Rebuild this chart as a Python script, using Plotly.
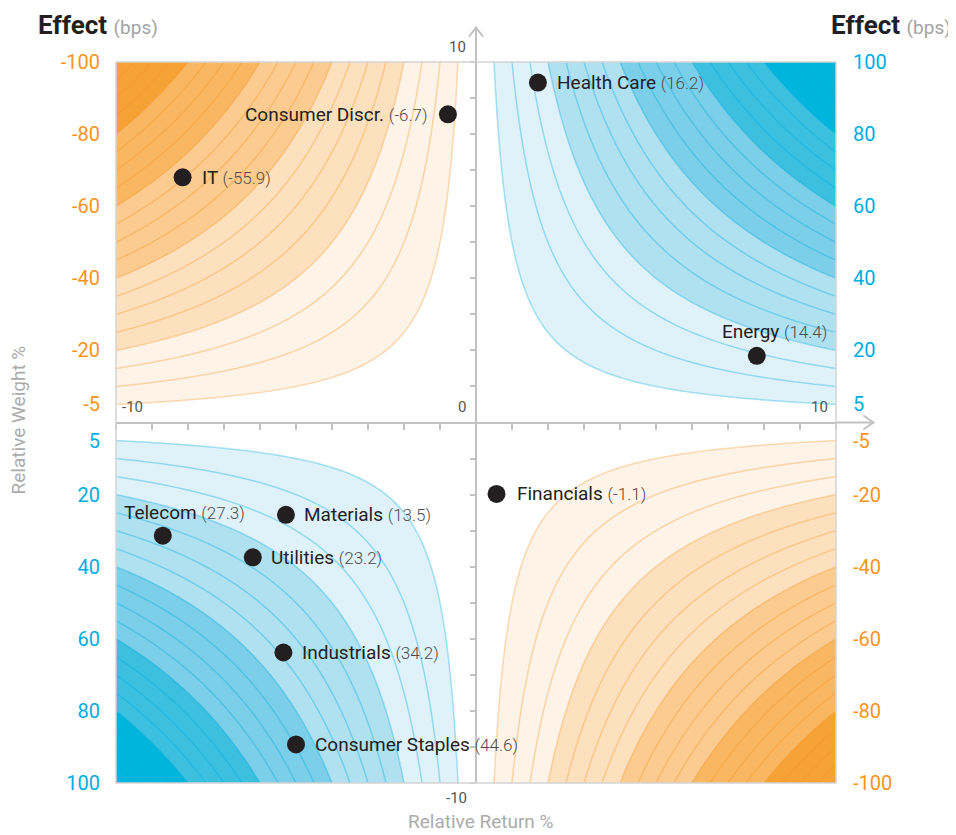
import numpy as np
import plotly.graph_objects as go

# ---------------- data ----------------
sectors = ["Health Care", "Consumer Discr.", "IT", "Energy", "Financials",
           "Telecom", "Materials", "Utilities", "Industrials", "Consumer Staples"]
rel_return = [1.72, -0.78, -8.15, 7.80, 0.57, -8.70, -5.28, -6.20, -5.35, -5.00]
rel_weight = [9.43, 8.55, 6.80, 1.85, -1.98, -3.14, -2.56, -3.74, -6.38, -8.93]
effect_bps = [16.2, -6.7, -55.9, 14.4, -1.1, 27.3, 13.5, 23.2, 34.2, 44.6]

# effect bands (bps) and their fills
band_edges = [-100, -80, -60, -40, -20, -5, 5, 20, 40, 60, 80, 100]
band_colors = ["#f7a235", "#f9b762", "#fbcb90", "#fde1be", "#fef3e7", "#ffffff",
               "#dff2fa", "#b0e1f1", "#7ccfe8", "#3cc0e0", "#00b5dc"]

# effect labels on the left/right edges (placed at the weight where the contour meets the edge)
edge_tick_weights = [10, 8, 6, 4, 2, 0.5, -0.5, -2, -4, -6, -8, -10]
left_edge_labels = ["-100", "-80", "-60", "-40", "-20", "-5", "5", "20", "40", "60", "80", "100"]
right_edge_labels = ["100", "80", "60", "40", "20", "5", "-5", "-20", "-40", "-60", "-80", "-100"]

# ---------------- styles ----------------
ORANGE = "#f7941d"
BLUE = "#00aee0"
FONT = "Roboto"
label_place = {  # (xanchor, xshift, yshift)
    "Health Care": ("left", 17, 0),
    "Consumer Discr.": ("right", -18, 0),
    "IT": ("left", 17, 0),
    "Energy": ("right", 72, 24),
    "Financials": ("left", 18, 0),
    "Telecom": ("left", -41, 23),
    "Materials": ("left", 16, 0),
    "Utilities": ("left", 16, 0),
    "Industrials": ("left", 17, 0),
    "Consumer Staples": ("left", 17, 0),
}

# ---------------- effect field ----------------
gx = np.linspace(-10, 10, 241)
gy = np.linspace(-10, 10, 241)
Z = np.outer(gy, gx)  # effect = return x weight (bps)
Zi = np.interp(Z, band_edges, np.arange(len(band_edges)))

n = len(band_edges)
nb = len(band_colors)
colorscale = []
for k, c in enumerate(band_colors):
    lo = 0.0 if k == 0 else (k + 0.5) / n
    hi = 1.0 if k == nb - 1 else (k + 1.5) / n
    colorscale += [[lo, c], [hi, c]]

fig = go.Figure()
fig.add_trace(go.Contour(
    x=gx, y=gy, z=np.round(Zi, 4),
    contours=dict(start=0, end=n - 1, size=1, coloring="fill", showlines=False),
    colorscale=colorscale, showscale=False, line=dict(width=0),
    hoverinfo="skip"))
fig.add_trace(go.Contour(
    x=gx, y=gy, z=np.round(Z, 4),
    contours=dict(start=-95, end=-5, size=5, coloring="none"),
    line=dict(color="rgba(245,150,40,0.35)", width=1.5, smoothing=1),
    showscale=False, hoverinfo="skip"))
fig.add_trace(go.Contour(
    x=gx, y=gy, z=np.round(Z, 4),
    contours=dict(start=5, end=95, size=5, coloring="none"),
    line=dict(color="rgba(0,170,220,0.35)", width=1.5, smoothing=1),
    showscale=False, hoverinfo="skip"))

fig.add_trace(go.Scatter(
    x=rel_return, y=rel_weight, mode="markers",
    marker=dict(size=18, color="#231f20"),
    text=sectors, hovertemplate="%{text}<extra></extra>", showlegend=False))

# dummy traces so the edge label axes are drawn
fig.add_trace(go.Scatter(x=[None], y=[None], yaxis="y2", showlegend=False, hoverinfo="skip"))
fig.add_trace(go.Scatter(x=[None], y=[None], yaxis="y3", showlegend=False, hoverinfo="skip"))


def colored(lbl):
    col = ORANGE if lbl.startswith("-") else BLUE
    return f'<span style="color:{col}">{lbl}</span>'


annotations = []
for name, xr, wr, ef in zip(sectors, rel_return, rel_weight, effect_bps):
    xa, xs, ys = label_place[name]
    annotations.append(dict(
        x=xr, y=wr, xref="x", yref="y", showarrow=False,
        xanchor=xa, yanchor="middle", xshift=xs, yshift=ys,
        text=(f'{name} <span style="font-size:17px;color:#4d4d4d;font-weight:300">'
              f'({ef:.1f})</span>'),
        font=dict(family=FONT, size=19, color="#231f20")))

# centre axis numbers
axis_num_font = dict(family=FONT, size=15, color="#555555")
annotations += [
    dict(x=-10, y=0, xref="x", yref="y", text="-10", showarrow=False,
         xanchor="left", yanchor="bottom", xshift=4, yshift=5, font=axis_num_font),
    dict(x=0, y=0, xref="x", yref="y", text="0", showarrow=False,
         xanchor="right", yanchor="bottom", xshift=-8, yshift=5, font=axis_num_font),
    dict(x=10, y=0, xref="x", yref="y", text="10", showarrow=False,
         xanchor="right", yanchor="bottom", xshift=-6, yshift=5, font=axis_num_font),
    dict(x=0, y=10, xref="x", yref="y", text="10", showarrow=False,
         xanchor="right", yanchor="bottom", xshift=-8, yshift=4, font=axis_num_font),
    dict(x=0, y=-10, xref="x", yref="y", text="-10", showarrow=False,
         xanchor="right", yanchor="top", xshift=-7, yshift=-4, font=axis_num_font),
]

# titles
title_txt = '<b>Effect</b> <span style="color:#a3a3a3;font-size:19px">(bps)</span>'
annotations += [
    dict(x=-0.111, y=1.051, xref="paper", yref="paper", text=title_txt, showarrow=False,
         xanchor="left", yanchor="middle", font=dict(family=FONT, size=26, color="#231f20")),
    dict(x=1.162, y=1.051, xref="paper", yref="paper", text=title_txt, showarrow=False,
         xanchor="right", yanchor="middle", font=dict(family=FONT, size=26, color="#231f20")),
    dict(x=0.507, y=-0.054, xref="paper", yref="paper", text="Relative Return %",
         showarrow=False, xanchor="center", yanchor="middle",
         font=dict(family=FONT, size=19, color="#ababab")),
    dict(x=-0.136, y=0.503, xref="paper", yref="paper", text="Relative Weight %",
         showarrow=False, textangle=-90, xanchor="center", yanchor="middle",
         font=dict(family=FONT, size=19, color="#ababab")),
]

AXC = "#c2c2c2"
shapes = [
    dict(type="rect", xref="paper", yref="paper", x0=0, y0=0, x1=1, y1=1,
         line=dict(color="#d3d3d3", width=1.5), layer="above"),
    # axis extensions + chevrons
    dict(type="line", xref="paper", yref="paper", x0=0.5, x1=0.5, y0=1, y1=1.048,
         line=dict(color=AXC, width=2)),
    dict(type="path", xref="paper", yref="paper",
         path="M 0.4903,1.035 L 0.5,1.048 L 0.5097,1.035",
         line=dict(color=AXC, width=2)),
    dict(type="line", xref="paper", yref="paper", x0=1, x1=1.052, y0=0.5, y1=0.5,
         line=dict(color=AXC, width=2)),
    dict(type="path", xref="paper", yref="paper",
         path="M 1.038,0.5097 L 1.052,0.5 L 1.038,0.4903",
         line=dict(color=AXC, width=2)),
]

edge_axis = dict(range=[-10, 10], tickmode="array", tickvals=edge_tick_weights,
                 showline=False, showgrid=False, zeroline=False, ticks="",
                 tickfont=dict(family=FONT, size=20), ticklabelstandoff=16,
                 fixedrange=True)

# the page body adds an 8px offset, so the figure is 8px smaller with 8px less margin
fig.update_layout(
    width=948, height=827,
    margin=dict(l=108, r=120, t=54, b=52),
    paper_bgcolor="white", plot_bgcolor="white",
    showlegend=False,
    font=dict(family=FONT),
    xaxis=dict(range=[-10, 10], domain=[0, 1], anchor="free", position=0.5,
               showline=True, linecolor=AXC, linewidth=2,
               ticks="outside", ticklen=6, tickwidth=1.5, tickcolor=AXC,
               tickmode="linear", tick0=0, dtick=1, showticklabels=False,
               showgrid=False, zeroline=False, fixedrange=True),
    yaxis=dict(range=[-10, 10], domain=[0, 1], anchor="free", position=0.5, side="left",
               showline=True, linecolor=AXC, linewidth=2,
               ticks="outside", ticklen=5, tickwidth=1.5, tickcolor=AXC,
               tickmode="linear", tick0=0, dtick=1, showticklabels=False,
               showgrid=False, zeroline=False, fixedrange=True),
    yaxis2=dict(edge_axis, overlaying="y", anchor="free", position=0, side="left",
                ticktext=[colored(t) for t in left_edge_labels]),
    yaxis3=dict(edge_axis, overlaying="y", anchor="free", position=1, side="right",
                ticktext=[colored(t) for t in right_edge_labels]),
    annotations=annotations,
    shapes=shapes,
)

fig.write_html("out.html")
